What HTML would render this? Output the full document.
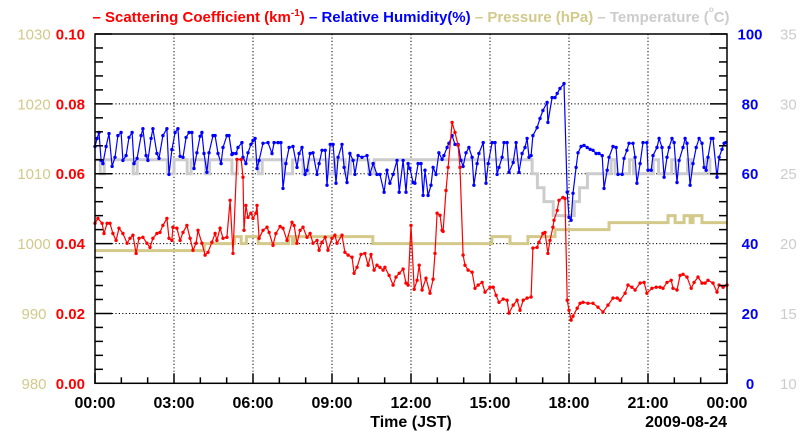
<!DOCTYPE html>
<html><head><meta charset="utf-8">
<style>
html,body{margin:0;padding:0;background:#fff;}
svg{display:block;font-family:"Liberation Sans",sans-serif;}
</style></head>
<body>
<svg id="chart" width="800" height="434" viewBox="0 0 800 434">
<g id="grid"></g>
<g id="series"></g>
<g id="axes"></g>
<text x="411" y="22" text-anchor="middle" font-size="15" font-weight="bold"><tspan fill="#ff0000">– Scattering Coefficient (km<tspan font-size="10" dy="-6">-1</tspan><tspan dy="6">) </tspan></tspan><tspan fill="#0000ff">– Relative Humidity(%) </tspan><tspan fill="#d2c98a">– Pressure (hPa) </tspan><tspan fill="#cccccc">– Temperature (<tspan font-size="8" dy="-10">o</tspan><tspan dy="10">C)</tspan></tspan></text>
<text x="411" y="427" text-anchor="middle" font-size="16" font-weight="bold">Time (JST)</text>
<text x="727" y="427" text-anchor="end" font-size="16" font-weight="bold">2009-08-24</text>
</svg>
<script>
const redT=[0,0.11,0.27,0.34,0.46,0.57,0.68,0.80,0.91,1.06,1.22,1.33,1.44,1.56,1.67,1.82,1.97,2.09,2.20,2.35,2.47,2.58,2.73,2.81,2.92,2.96,3.11,3.23,3.34,3.49,3.61,3.72,3.84,3.91,4.06,4.18,4.29,4.44,4.56,4.63,4.75,4.86,5.01,5.13,5.24,5.39,5.55,5.62,5.66,5.73,5.81,5.92,6.00,6.11,6.15,6.23,6.38,6.53,6.61,6.76,6.87,7.03,7.14,7.29,7.48,7.56,7.67,7.79,7.90,8.05,8.17,8.28,8.43,8.51,8.62,8.74,8.85,9.00,9.11,9.19,9.38,9.49,9.61,9.76,9.84,9.95,10.10,10.25,10.37,10.48,10.60,10.71,10.82,10.94,11.01,11.17,11.32,11.43,11.55,11.70,11.81,11.89,12.00,12.12,12.23,12.31,12.42,12.57,12.72,12.84,12.91,12.99,13.10,13.18,13.22,13.33,13.41,13.56,13.67,13.79,13.86,13.98,14.05,14.17,14.32,14.43,14.55,14.70,14.81,15.00,15.12,15.23,15.34,15.50,15.65,15.72,15.88,16.03,16.14,16.26,16.41,16.56,16.63,16.79,16.86,17.01,17.09,17.20,17.28,17.39,17.43,17.55,17.62,17.77,17.85,17.93,18.00,18.08,18.15,18.31,18.42,18.53,18.72,18.91,19.10,19.29,19.48,19.67,19.83,19.94,20.13,20.24,20.39,20.51,20.70,20.85,20.96,21.15,21.31,21.46,21.57,21.72,21.88,21.95,22.10,22.22,22.33,22.48,22.64,22.75,22.90,23.05,23.17,23.28,23.47,23.62,23.70,23.85,24.0];
const redV=[0.0458,0.0472,0.0458,0.0429,0.0458,0.0458,0.0429,0.0409,0.0444,0.0429,0.0401,0.0415,0.0424,0.0372,0.0415,0.0418,0.0401,0.0389,0.0415,0.0429,0.0432,0.0452,0.0472,0.0415,0.0409,0.0447,0.0444,0.0409,0.0432,0.0452,0.0415,0.0381,0.0401,0.0438,0.0401,0.0367,0.0375,0.0404,0.0429,0.0409,0.0444,0.0415,0.0418,0.0524,0.0372,0.0641,0.0641,0.0590,0.0438,0.0509,0.0475,0.0487,0.0472,0.0487,0.0509,0.0415,0.0438,0.0447,0.0432,0.0395,0.0429,0.0449,0.0444,0.0409,0.0461,0.0452,0.0401,0.0438,0.0447,0.0418,0.0429,0.0401,0.0409,0.0381,0.0404,0.0418,0.0381,0.0415,0.0424,0.0401,0.0424,0.0375,0.0367,0.0361,0.0315,0.0332,0.0369,0.0372,0.0338,0.0369,0.0324,0.0338,0.0332,0.0324,0.0332,0.0309,0.0281,0.0304,0.0315,0.0327,0.0287,0.0281,0.0452,0.0269,0.0295,0.0338,0.0267,0.0301,0.0258,0.0298,0.0372,0.0487,0.0481,0.0438,0.0435,0.0552,0.0618,0.0747,0.0718,0.0681,0.0618,0.0367,0.0338,0.0324,0.0318,0.0272,0.0281,0.0289,0.0261,0.0275,0.0275,0.0252,0.0232,0.0241,0.0238,0.0201,0.0224,0.0238,0.0209,0.0238,0.0244,0.0247,0.0387,0.0389,0.0404,0.0429,0.0432,0.0372,0.0409,0.0447,0.0467,0.0495,0.0524,0.0532,0.0529,0.0238,0.0209,0.0181,0.0192,0.0215,0.0229,0.0232,0.0229,0.0229,0.0218,0.0204,0.0224,0.0244,0.0244,0.0238,0.0258,0.0281,0.0275,0.0267,0.0287,0.0289,0.0258,0.0272,0.0275,0.0275,0.0272,0.0289,0.0295,0.0272,0.0267,0.0309,0.0312,0.0304,0.0272,0.0289,0.0304,0.0287,0.0287,0.0295,0.0287,0.0261,0.0281,0.0275,0.0281];
const rhT=[0.00,0.08,0.15,0.23,0.30,0.42,0.53,0.65,0.76,0.87,0.99,1.06,1.18,1.29,1.41,1.48,1.60,1.75,1.82,1.94,2.01,2.13,2.20,2.35,2.43,2.58,2.73,2.81,2.92,3.04,3.15,3.23,3.34,3.46,3.57,3.68,3.76,3.87,3.99,4.06,4.14,4.25,4.33,4.48,4.56,4.67,4.79,4.86,5.01,5.09,5.20,5.24,5.36,5.43,5.58,5.62,5.73,5.81,5.92,6.00,6.08,6.15,6.23,6.38,6.57,6.72,6.80,6.95,7.06,7.14,7.25,7.37,7.52,7.67,7.75,7.86,7.98,8.05,8.17,8.28,8.43,8.51,8.62,8.74,8.81,8.93,9.04,9.15,9.23,9.38,9.46,9.57,9.68,9.80,9.87,9.99,10.14,10.33,10.44,10.56,10.71,10.82,10.98,11.09,11.20,11.32,11.47,11.55,11.70,11.81,11.89,11.96,12.08,12.15,12.27,12.38,12.46,12.53,12.65,12.76,12.84,12.95,13.06,13.18,13.25,13.37,13.44,13.56,13.67,13.79,13.90,13.98,14.09,14.20,14.32,14.39,14.51,14.58,14.74,14.85,14.93,15.08,15.19,15.27,15.34,15.46,15.53,15.65,15.72,15.88,15.99,16.10,16.22,16.33,16.41,16.48,16.56,16.63,16.79,16.90,17.01,17.17,17.20,17.36,17.47,17.55,17.66,17.81,17.93,18.00,18.08,18.15,18.27,18.34,18.46,18.57,18.69,18.80,18.91,19.03,19.14,19.26,19.33,19.45,19.52,19.67,19.79,19.86,20.02,20.09,20.20,20.28,20.43,20.51,20.58,20.70,20.81,20.96,21.00,21.12,21.19,21.34,21.42,21.53,21.61,21.72,21.80,21.91,21.99,22.10,22.18,22.33,22.41,22.48,22.60,22.71,22.83,22.94,23.05,23.13,23.21,23.28,23.40,23.47,23.62,23.70,23.81,23.89,23.96];
const rhV=[67.8,70.1,71.8,63.8,62.9,67.8,71.5,62.1,64.7,70.9,71.8,63.8,65.2,70.4,71.8,62.9,64.4,70.9,72.9,65.2,63.8,70.1,72.9,65.8,64.4,70.9,72.9,59.8,66.9,71.8,72.9,65.0,64.7,70.4,71.8,71.8,61.5,66.0,70.7,71.8,65.8,60.4,66.0,70.9,70.9,65.8,62.9,67.5,70.9,70.9,65.5,65.8,65.8,67.5,68.9,64.7,62.9,66.0,68.4,69.5,70.1,61.5,63.8,68.7,68.9,65.8,68.9,68.9,68.9,55.8,62.9,67.5,67.8,61.8,65.8,67.5,59.8,61.0,65.8,66.0,59.8,62.9,66.7,66.7,56.7,68.4,68.4,57.3,64.7,68.4,61.8,57.5,65.8,63.8,59.8,65.2,64.7,65.2,59.8,62.9,59.8,59.8,54.7,61.0,57.3,59.8,63.8,54.7,63.8,54.7,62.9,61.5,57.5,57.3,62.9,62.9,53.8,61.0,53.8,56.7,61.8,59.8,66.0,64.1,65.2,67.5,68.7,70.9,68.4,68.4,63.8,62.1,66.0,67.5,64.7,56.7,62.9,65.8,68.9,57.3,62.9,68.9,68.9,59.8,61.8,64.7,68.9,68.9,60.4,63.2,68.9,60.4,65.8,67.5,70.1,64.7,65.2,70.9,73.2,75.8,78.1,80.4,74.7,81.8,81.8,83.0,84.4,85.8,54.7,47.5,46.7,54.4,61.8,66.0,67.8,68.1,67.5,67.0,66.7,65.8,65.8,65.2,55.8,61.0,64.7,67.8,67.5,59.8,59.8,64.4,66.7,68.7,68.7,64.7,57.3,62.9,68.9,68.9,61.0,61.0,65.2,67.5,70.1,67.5,59.0,64.7,67.5,70.1,68.9,57.5,63.8,67.5,70.1,68.7,56.7,62.9,67.5,70.1,68.7,61.8,61.0,64.7,70.1,70.1,59.0,64.7,67.0,68.7,68.9];
const presT=[0,4.15,5.3,5.55,5.75,6.2,7.35,7.5,7.6,10.55,15.07,15.76,16.44,17.47,19.52,21.76,22.03,22.37,22.6,22.71,23.05,24];
const presV=[999,1000,1001,1000,1001,1000,1001,1000,1001,1000,1001,1000,1001,1002,1003,1004,1003,1004,1003,1004,1003,1003];
const tempT=[0,0.2,0.35,1.45,1.6,2.75,3.0,3.5,3.65,4.2,4.35,5.2,5.4,6.2,6.35,7.2,7.5,7.9,8.1,8.85,9.1,9.5,9.7,10.4,10.6,16.6,16.8,17.05,17.4,18.2,18.4,18.7,19.6,19.75,20.3,20.45,21.2,21.4,21.9,22.05,22.5,22.65,23.2,23.35,24];
const tempV=[26,25,26,25,26,25,26,25,26,25,26,25,26,25,26,25,26,25,26,25,26,25,26,25,26,25,24,23,22,23,24,25,26,25,26,25,26,25,26,25,26,25,26,25,25];
const xTickLabels=["00:00","03:00","06:00","09:00","12:00","15:00","18:00","21:00","00:00"];
const redTicks=["0.00","0.02","0.04","0.06","0.08","0.10"];
const presTicks=["980","990","1000","1010","1020","1030"];
const rhTicks=["0","20","40","60","80","100"];
const tempTicks=["10","15","20","25","30","35"];

const L=95,R=727,T=34,B=383.3;
const NS="http://www.w3.org/2000/svg";
function xs(h){return L+(R-L)*h/24;}
function yRed(v){return B-(B-T)*v/0.10;}
function yRh(v){return B-(B-T)*v/100;}
function yPres(v){return B-(B-T)*(v-980)/50;}
function yTemp(v){return B-(B-T)*(v-10)/25;}
function mk(tag,attrs,parent){const e=document.createElementNS(NS,tag);for(const k in attrs)e.setAttribute(k,attrs[k]);parent.appendChild(e);return e;}
const grid=document.getElementById('grid'),ser=document.getElementById('series'),ax=document.getElementById('axes');

for(let i=1;i<8;i++){const x=xs(i*3);const g=mk('line',{x1:x,x2:x,y1:T,y2:B,stroke:'#000','stroke-width':1,'stroke-dasharray':'1.2,2.2'},grid);

}
for(let i=1;i<5;i++){const y=yRed(i*0.02);const g=mk('line',{x1:L,x2:R,y1:y,y2:y,stroke:'#000','stroke-width':1,'stroke-dasharray':'1.2,2.2'},grid);

}

function stepPath(ts,vs,yf){let d='';for(let i=0;i<ts.length;i++){const x=xs(ts[i]),y=yf(vs[i]);if(i===0)d+='M'+x+','+y;else{d+='H'+x+'V'+y;}}return d;}
const tp=mk('path',{d:stepPath(tempT,tempV,yTemp),fill:'none',stroke:'#cccccc','stroke-width':3},ser);


const pp=mk('path',{d:stepPath(presT,presV,yPres),fill:'none',stroke:'#d2c98a','stroke-width':3},ser);



function series(ts,vs,yf,color,name){
  let d='';for(let i=0;i<ts.length;i++){d+=(i?'L':'M')+xs(ts[i]).toFixed(1)+','+yf(vs[i]).toFixed(1);}
  const p=mk('path',{d:d,fill:'none',stroke:color,'stroke-width':1.2},ser);
  
  
  for(let i=0;i<ts.length;i++){
    const c=mk('circle',{cx:xs(ts[i]).toFixed(1),cy:yf(vs[i]).toFixed(1),r:1.7,fill:color},ser);
    
    
  }
}
series(rhT,rhV,yRh,'#0000ff','humidity');
series(redT,redV,yRed,'#ff0000','scattering');

const fr=mk('rect',{x:L,y:T,width:R-L,height:B-T,fill:'none',stroke:'#000','stroke-width':1.5},ax);


for(let i=0;i<=25;i++){const y=B-(B-T)*i/25;const len=(i%5===0)?17:8;
  const a=mk('line',{x1:L,x2:L+len,y1:y,y2:y,stroke:'#000','stroke-width':1.5},ax);
  
  
  const b=mk('line',{x1:R-len,x2:R,y1:y,y2:y,stroke:'#000','stroke-width':1.5},ax);
  
  }
for(let i=0;i<=24;i++){const x=xs(i);const len=(i%3===0)?10:6;
  const a=mk('line',{x1:x,x2:x,y1:B,y2:B-len,stroke:'#000','stroke-width':1.5},ax);
  
  }
function txt(s,x,y,attrs,name){const t=mk('text',Object.assign({x:x,y:y,'font-size':15},attrs),ax);t.textContent=s;
  
  return t;}
for(let i=0;i<xTickLabels.length;i++){txt(xTickLabels[i],xs(i*3),408,{'text-anchor':'middle','font-weight':'bold','font-size':16},'x-tick-label');}
for(let i=0;i<6;i++){const y=B-(B-T)*i/5+5.5;
  txt(redTicks[i],85,y,{'text-anchor':'end','font-weight':'bold',fill:'#ff0000'},'scattering-tick-label');
  txt(presTicks[i],34,y,{'text-anchor':'middle',fill:'#d2c98a'},'pressure-tick-label');
  txt(rhTicks[i],750,y,{'text-anchor':'middle','font-weight':'bold',fill:'#0000ff'},'humidity-tick-label');
  txt(tempTicks[i],780,y,{'text-anchor':'start',fill:'#cccccc'},'temperature-tick-label');}
</script>
</body></html>
